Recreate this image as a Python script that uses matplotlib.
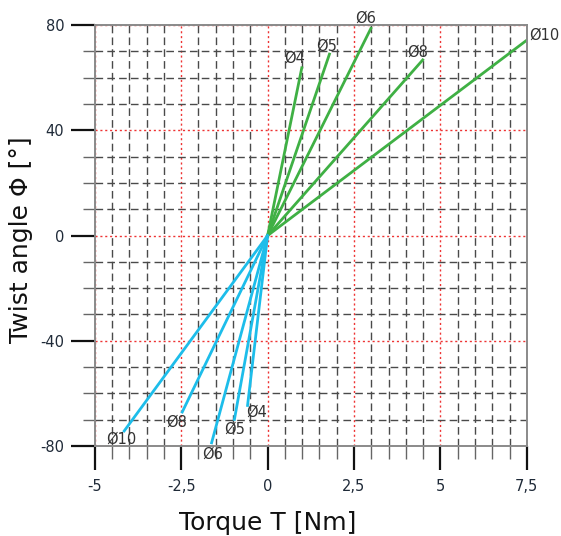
import matplotlib
matplotlib.use("Agg")
import matplotlib.pyplot as plt
import numpy as np

plt.rcParams["axes.unicode_minus"] = False

# shaft diameters and end points of each torsion line
diam = ["Ø4", "Ø5", "Ø6", "Ø8", "Ø10"]
t_pos = [0.99, 1.79, 2.99, 4.49, 7.48]
phi_pos = [63.8, 69.0, 78.8, 66.8, 74.1]
t_neg = [-0.58, -0.96, -1.62, -2.47, -4.15]
phi_neg = [-64.6, -69.9, -78.8, -67.1, -74.3]

xticks = [-5, -2.5, 0, 2.5, 5, 7.5]
xtick_labels = ["-5", "-2,5", "0", "2,5", "5", "7,5"]
yticks = [-80, -40, 0, 40, 80]

# label offsets in pixels (dx, dy) from the end of each line
off_pos = [(-7, 10), (-3, 8), (-5, 10), (-5, 8), (18, 6)]
off_neg = [(9, -7), (0, -10), (1, -11), (-6, -10), (-3, -8)]

green = "#3fb044"
blue = "#1dbdea"
txt = "#1f2a38"

fig = plt.figure(figsize=(5.61, 5.36), dpi=100)
ax = fig.add_axes([0.169, 0.168, 0.770, 0.785])

ax.set_xlim(-5, 7.5)
ax.set_ylim(-80, 80)
ax.set_xticks(xticks)
ax.set_xticklabels(xtick_labels)
ax.set_yticks(yticks)
ax.set_xticks(np.arange(-5, 7.51, 0.5), minor=True)
ax.set_yticks(np.arange(-80, 81, 10), minor=True)

ax.grid(which="minor", color="#4a4a4a", linestyle=(0, (5.5, 3)), linewidth=1.0)
ax.grid(which="major", color="#ee3333", linestyle=(0, (1.5, 2)), linewidth=1.0)
ax.set_axisbelow(True)

ax.tick_params(which="major", length=17, width=1.6, color="#111111",
               labelsize=10.5, labelcolor=txt, pad=5)
ax.tick_params(which="minor", length=9, width=1.0, color="#666666")
ax.tick_params(axis="x", which="major", pad=7)

for s in ax.spines.values():
    s.set_color("#8a8a8a")
    s.set_linewidth(1.4)

for i in range(len(diam)):
    ax.plot([0, t_pos[i]], [0, phi_pos[i]], color=green, linewidth=2)
    ax.plot([0, t_neg[i]], [0, phi_neg[i]], color=blue, linewidth=2)
    ax.annotate(diam[i], (t_pos[i], phi_pos[i]), xytext=off_pos[i],
                textcoords="offset pixels", ha="center", va="center",
                fontsize=10.5, color="#333333", annotation_clip=False)
    ax.annotate(diam[i], (t_neg[i], phi_neg[i]), xytext=off_neg[i],
                textcoords="offset pixels", ha="center", va="center",
                fontsize=10.5, color="#333333", annotation_clip=False)

ax.set_xlabel("Torque T [Nm]", fontsize=18, color="#111111")
ax.set_ylabel("Twist angle Φ [°]", fontsize=18, color="#111111")
ax.xaxis.set_label_coords(0.40, -0.155)
ax.yaxis.set_label_coords(-0.142, 0.49)

fig.savefig("out.png", dpi=100)
